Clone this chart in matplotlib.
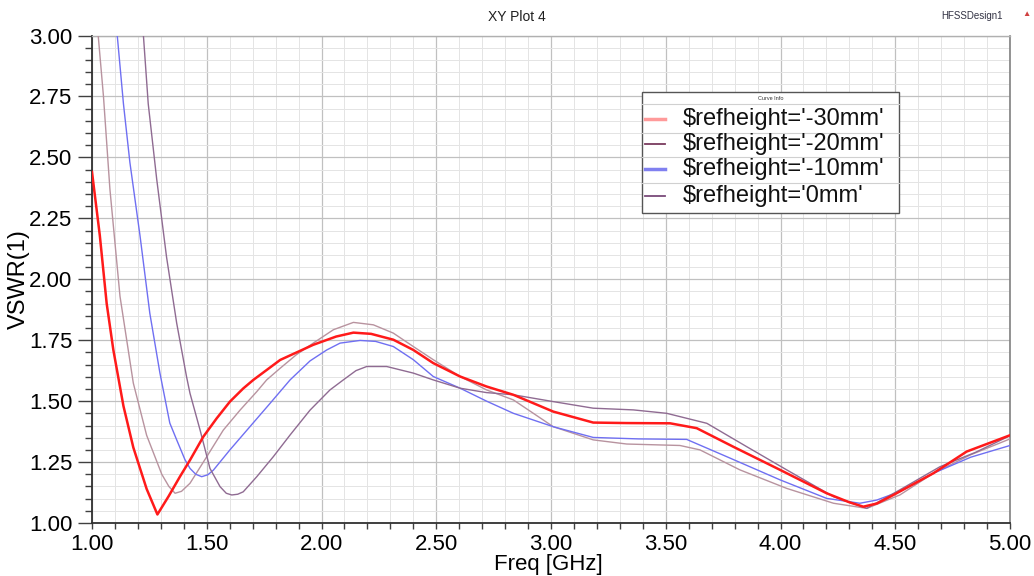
import matplotlib
matplotlib.use('Agg')

import matplotlib.pyplot as plt
from matplotlib.ticker import MultipleLocator, FormatStrFormatter
from matplotlib.lines import Line2D
from matplotlib.patches import Rectangle

plt.rcParams['font.family'] = ['Liberation Sans', 'DejaVu Sans']

# $refheight='-30mm'
freq_m30 = [1.000, 1.034, 1.064, 1.093, 1.137, 1.180, 1.238, 1.285, 1.334, 1.383,
            1.427, 1.485, 1.543, 1.601, 1.659, 1.703, 1.820, 1.964, 2.064, 2.139,
            2.216, 2.313, 2.400, 2.487, 2.604, 2.719, 2.836, 3.010, 3.184, 3.330,
            3.519, 3.635, 3.794, 3.998, 4.201, 4.300, 4.361, 4.420, 4.492, 4.666,
            4.811, 5.000]
vswr_m30 = [2.44, 2.18, 1.90, 1.71, 1.48, 1.31, 1.14, 1.035, 1.11, 1.19,
            1.258, 1.354, 1.429, 1.498, 1.552, 1.587, 1.669, 1.731, 1.765, 1.781,
            1.776, 1.752, 1.71, 1.656, 1.601, 1.56, 1.526, 1.457, 1.412, 1.410,
            1.409, 1.389, 1.313, 1.218, 1.122, 1.085, 1.067, 1.08, 1.115, 1.204,
            1.293, 1.360]

# $refheight='-20mm'
freq_m20 = [1.027, 1.050, 1.078, 1.122, 1.180, 1.238, 1.304, 1.335, 1.362, 1.390,
            1.427, 1.500, 1.572, 1.645, 1.718, 1.761, 1.820, 1.890, 1.964, 2.052,
            2.139, 2.226, 2.313, 2.400, 2.487, 2.604, 2.719, 2.836, 3.010, 3.184,
            3.330, 3.562, 3.649, 3.823, 4.027, 4.231, 4.376, 4.520, 4.666, 4.829,
            5.000]
vswr_m20 = [3.00, 2.75, 2.37, 1.93, 1.574, 1.36, 1.20, 1.15, 1.122, 1.13,
            1.163, 1.272, 1.381, 1.463, 1.539, 1.587, 1.635, 1.69, 1.738, 1.793,
            1.823, 1.813, 1.779, 1.724, 1.67, 1.601, 1.546, 1.505, 1.395, 1.341,
            1.324, 1.318, 1.30, 1.218, 1.142, 1.081, 1.06, 1.115, 1.204, 1.28,
            1.345]

# $refheight='-10mm'
freq_m10 = [1.110, 1.137, 1.165, 1.209, 1.252, 1.296, 1.339, 1.369, 1.405, 1.427,
            1.452, 1.478, 1.505, 1.529, 1.601, 1.688, 1.776, 1.863, 1.950, 2.023,
            2.081, 2.168, 2.236, 2.313, 2.400, 2.487, 2.604, 2.719, 2.836, 3.010,
            3.184, 3.381, 3.591, 3.766, 3.998, 4.201, 4.346, 4.419, 4.520, 4.666,
            4.829, 5.000]
vswr_m10 = [3.00, 2.72, 2.48, 2.18, 1.86, 1.615, 1.41, 1.341, 1.26, 1.224,
            1.20, 1.19, 1.198, 1.217, 1.30, 1.395, 1.491, 1.587, 1.665, 1.71,
            1.738, 1.749, 1.745, 1.724, 1.67, 1.601, 1.553, 1.50, 1.45, 1.395,
            1.351, 1.345, 1.343, 1.272, 1.177, 1.101, 1.081, 1.094, 1.129, 1.204,
            1.27, 1.318]

# $refheight='0mm'
freq_0 = [1.224, 1.245, 1.282, 1.325, 1.369, 1.412, 1.427, 1.471, 1.514, 1.558,
          1.585, 1.609, 1.635, 1.659, 1.718, 1.790, 1.863, 1.950, 2.037, 2.095,
          2.150, 2.197, 2.284, 2.400, 2.487, 2.604, 2.719, 2.836, 3.010, 3.184,
          3.359, 3.504, 3.679, 3.853, 4.027, 4.231, 4.376, 4.520, 4.695, 4.850,
          5.000]
vswr_0 = [3.00, 2.72, 2.41, 2.09, 1.82, 1.60, 1.532, 1.381, 1.224, 1.149,
          1.122, 1.115, 1.118, 1.128, 1.19, 1.272, 1.361, 1.463, 1.546, 1.587,
          1.625, 1.642, 1.642, 1.615, 1.587, 1.553, 1.535, 1.526, 1.498, 1.471,
          1.464, 1.45, 1.409, 1.313, 1.218, 1.108, 1.06, 1.136, 1.231, 1.29,
          1.358]

labels = ["$refheight='-30mm'", "$refheight='-20mm'",
          "$refheight='-10mm'", "$refheight='0mm'"]
colors = ['#ff1a1a', '#b8939f', '#6f6ff2', '#8f6b92']
widths = [1.8, 1.0, 1.0, 1.0]
legend_colors = ['#ff9a9a', '#7a3a5e', '#8080f0', '#7a4a7a']

W, H = 1034, 576
fig = plt.figure(figsize=(W / 100, H / 100), dpi=100)
ax = fig.add_axes([92 / W, 1 - 523 / H, (1010 - 92) / W, (523 - 35.5) / H])

series = [(freq_m30, vswr_m30), (freq_m20, vswr_m20),
          (freq_m10, vswr_m10), (freq_0, vswr_0)]
# red goes on top
for i in [1, 2, 3, 0]:
    f, v = series[i]
    ax.plot(f, v, color=colors[i], lw=widths[i], solid_joinstyle='round', zorder=3)

ax.set_xlim(1.0, 5.0)
ax.set_ylim(1.0, 3.0)
ax.xaxis.set_major_locator(MultipleLocator(0.5))
ax.xaxis.set_minor_locator(MultipleLocator(0.1))
ax.yaxis.set_major_locator(MultipleLocator(0.25))
ax.yaxis.set_minor_locator(MultipleLocator(0.05))
ax.xaxis.set_major_formatter(FormatStrFormatter('%.2f'))
ax.yaxis.set_major_formatter(FormatStrFormatter('%.2f'))

ax.grid(which='major', color='#c0c0c0', lw=0.9, zorder=0)
ax.grid(which='minor', color='#e4e4e4', lw=0.7, zorder=0)
ax.set_axisbelow(True)

ax.tick_params(axis='y', which='major', direction='out', length=10, width=1.0,
               color='#404040', labelsize=16, pad=4)
ax.tick_params(axis='y', which='minor', direction='out', length=5, width=1.0,
               color='#404040')
ax.tick_params(axis='x', which='major', direction='out', length=4, width=1.0,
               color='#404040', labelsize=16, pad=4)
ax.tick_params(axis='x', which='minor', direction='out', length=4, width=1.0,
               color='#404040')

for s in ['left', 'bottom']:
    ax.spines[s].set_color('#303030')
    ax.spines[s].set_linewidth(1.3)
ax.spines['top'].set_color('#b0b0b0')
ax.spines['right'].set_color('#808080')
ax.spines['top'].set_linewidth(1.0)
ax.spines['right'].set_linewidth(1.2)

ax.set_xlabel('Freq [GHz]', fontsize=16)
ax.xaxis.set_label_coords(0.497, -0.064)
ax.set_ylabel('VSWR(1)', fontsize=17)
ax.yaxis.set_label_coords(-0.068, 0.5)

fig.text(517 / W, 1 - 17 / H, 'XY Plot 4', fontsize=10, ha='center', va='center',
         color='#202020')
fig.text(972 / W, 1 - 16 / H, 'HFSSDesign1', fontsize=7, ha='center', va='center',
         color='#333344')
fig.text(1026 / W, 1 - 15 / H, '\u25b2', fontsize=6, ha='center', va='center',
         color='#d04040')


# legend box ("Curve Info"), placed in figure pixels
def fx(px):
    return px / W


def fy(py):
    return 1 - py / H


box_l, box_r, box_t, box_b = 642, 899, 92, 213
fig.patches.append(Rectangle((fx(box_l), fy(box_b)), fx(box_r) - fx(box_l),
                             fy(box_t) - fy(box_b), transform=fig.transFigure,
                             facecolor='white', edgecolor='#555555', lw=1.0, zorder=5))
fig.text(fx((box_l + box_r) / 2), fy(98), 'Curve Info', fontsize=4, ha='center',
         va='center', color='#333333', zorder=6)
for sep in [104, 133, 157, 183]:
    fig.lines.append(Line2D([fx(box_l), fx(box_r)], [fy(sep), fy(sep)],
                            transform=fig.transFigure, color='#d0d0d0', lw=0.8, zorder=6))
rows = [119, 144, 169, 196]
for i, ry in enumerate(rows):
    fig.lines.append(Line2D([fx(645), fx(665)], [fy(ry), fy(ry)],
                            transform=fig.transFigure, color=legend_colors[i],
                            lw=2.5 if i in (0, 2) else 1.3, zorder=6))
    fig.text(fx(683), fy(ry), labels[i], fontsize=17, ha='left', va='center',
             color='#111111', zorder=6)

fig.savefig('out.png', dpi=100)
